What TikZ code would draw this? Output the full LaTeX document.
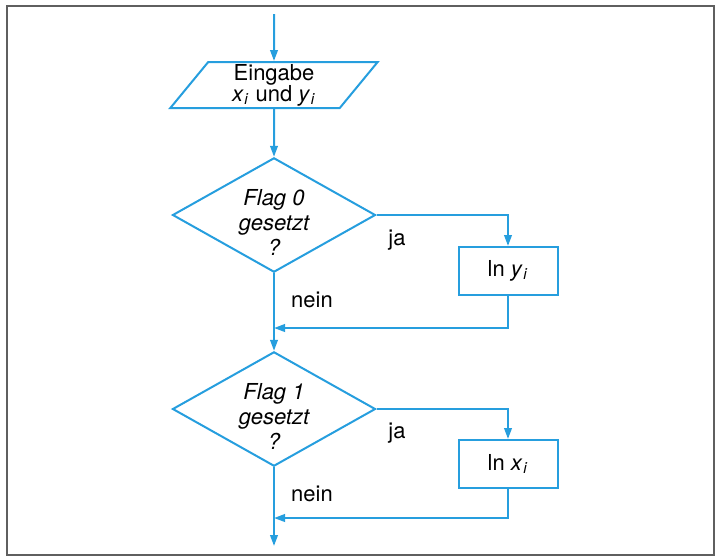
\documentclass[tikz,border=0pt]{standalone}
\usepackage{fontspec}
\setmainfont{TeX Gyre Heros}
\usetikzlibrary{shapes.geometric,arrows.meta}
\definecolor{flowblue}{RGB}{38,158,222}
\definecolor{framegray}{RGB}{95,95,95}
\newcommand{\indiz}[2]{\textit{#1}\textsubscript{\kern0.3pt\textit{#2}}}
\newcommand{\oben}{\rule{0pt}{15pt}}

\begin{document}
\begin{tikzpicture}[x=0.5pt,y=-0.5pt,
    flow/.style={draw=flowblue, line width=1pt},
    pfeil/.style={flowblue, line width=1pt, -{Triangle[length=5.5pt,width=3.8pt]}},
    eingabe/.style={flow, trapezium, trapezium left angle=60, trapezium right angle=120,
        trapezium stretches=true, minimum width=104pt, minimum height=23pt,
        inner sep=0pt, align=center, font=\fontsize{11}{10.5}\selectfont},
    frage/.style={flow, diamond, minimum width=101.5pt, minimum height=57pt,
        inner xsep=0pt, inner ysep=-9pt, align=center,
        font=\fontsize{11}{12.5}\selectfont\itshape},
    kasten/.style={flow, rectangle, minimum width=49.5pt, minimum height=24pt,
        font=\fontsize{11}{13}\selectfont},
    marke/.style={inner sep=0pt, font=\fontsize{11}{13}\selectfont}]
        \useasboundingbox (0,0) rectangle (718,559);

        % Rahmen
        \draw[framegray, line width=1.2pt] (7,6) rectangle (714,555);

        % Eingabe
        \coordinate (start) at (274,14);
        \node[eingabe] (eingabe) at (274,85) {Eingabe\\\indiz{x}{i} und \indiz{y}{i}};

        % Abfrage Flag 0
        \node[frage] (flag0) at (274,215) {\oben Flag 0\\gesetzt\\?};
        \node[kasten] (lny) at (508,271) {ln \indiz{y}{i}};
        \coordinate (merge0) at (274,328);
        \node[marke] (ja0) at (397,240) {ja};
        \node[marke] (nein0) at (312,300) {nein};

        % Abfrage Flag 1
        \node[frage] (flag1) at (274,409) {\oben Flag 1\\gesetzt\\?};
        \node[kasten] (lnx) at (508,464) {ln \indiz{x}{i}};
        \coordinate (merge1) at (274,518);
        \node[marke] (ja1) at (397,433) {ja};
        \node[marke] (nein1) at (312,494) {nein};
        \coordinate (ende) at (274,546);

        % Verbindungen
        \draw[pfeil] (start) -- (eingabe.north);
        \draw[pfeil] (eingabe.south) -- (flag0.north);
        \draw[pfeil] (flag0.east) -| (lny.north);
        \draw[pfeil] (lny.south) |- (merge0);
        \draw[pfeil] (flag0.south) -- (flag1.north);
        \draw[pfeil] (flag1.east) -| (lnx.north);
        \draw[pfeil] (lnx.south) |- (merge1);
        \draw[pfeil] (flag1.south) -- (ende);
    \end{tikzpicture}
\end{document}
